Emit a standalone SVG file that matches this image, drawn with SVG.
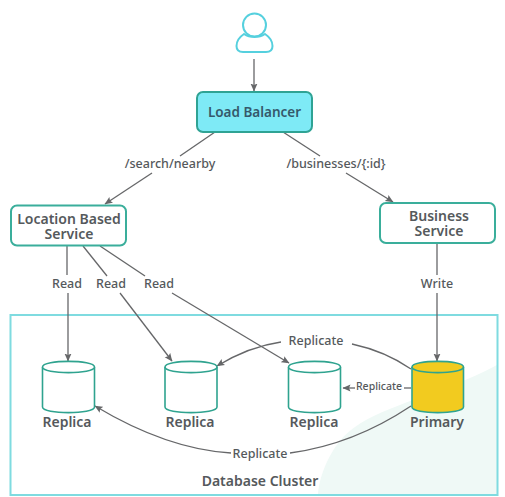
<svg xmlns="http://www.w3.org/2000/svg" width="505" height="497" viewBox="0 0 505 497">
<style>
text{font-family:"Noto Sans","Open Sans",sans-serif;fill:#55595c;text-anchor:middle}
.l{font-size:12.500px;font-weight:500}
.n{font-size:14px;font-weight:600}
.box{fill:#fff;stroke:#3aae9b;stroke-width:2}
.c{fill:none;stroke:#666769;stroke-width:1.300}
.a{marker-end:url(#ah)}
.cyl{fill:#fff;stroke:#2fa38f;stroke-width:1.600}
</style>
<defs>
<marker id="ah" markerUnits="userSpaceOnUse" markerWidth="9" markerHeight="8" refX="7.500" refY="3.500" orient="auto"><path d="M0 0L8 3.500L0 7L1.500 3.500Z" fill="#666769"/></marker>
<g id="cy"><path class="cyl" d="M0 6C0 -1.500 52 -1.500 52 6V46C52 53.500 0 53.500 0 46Z"/><path class="cyl" d="M0 6C0 13.500 52 13.500 52 6" fill="none"/></g>
</defs>
<rect width="505" height="497" fill="#fff"/>
<path d="M318 494C320 470 335 440 355 427C385 405 440 395 497 365V494Z" fill="#eff9f6"/>
<g id="cluster">
<rect x="10.500" y="315" width="487" height="180" fill="none" stroke="#7fdbe0" stroke-width="2"/>
<text class="n" x="260" y="486">Database Cluster</text>
</g>
<g id="connectors">
<path class="c a" d="M254 59V91"/>
<path class="c" d="M215 132L180 156"/>
<path class="c a" d="M152 173L105 204"/>
<path class="c" d="M283 132L320 156"/>
<path class="c a" d="M346 173L393 202"/>
<path class="c" d="M67 246V275"/>
<path class="c a" d="M68 293V361"/>
<path class="c" d="M83 246L107 276"/>
<path class="c a" d="M120 293L172 361"/>
<path class="c" d="M100 246L145 276"/>
<path class="c a" d="M172 293L289 363"/>
<path class="c" d="M437 244V275"/>
<path class="c a" d="M437 293V361"/>
<path class="c" d="M411 369C395 358 375 349 352 344"/>
<path class="c a" d="M281 342C260 345 240 352 217 366"/>
<path class="c" d="M404 388H411"/>
<path class="c a" d="M355 388H343"/>
<path class="c" d="M411 406C375 430 335 447 290 453"/>
<path class="c a" d="M231 453C180 450 135 430 95 406"/>
</g>
<g id="labels">
<text class="l" x="170" y="168">/search/nearby</text>
<text class="l" x="336" y="168">/businesses/{:id}</text>
<text class="l" x="67" y="288">Read</text>
<text class="l" x="111" y="288">Read</text>
<text class="l" x="159" y="288">Read</text>
<text class="l" x="437" y="288">Write</text>
<text class="l" x="316" y="345">Replicate</text>
<text class="l" style="font-size:10.500px" x="379" y="390">Replicate</text>
<text class="l" x="260" y="458">Replicate</text>
</g>
<g id="user" fill="#fff" stroke="#55d0de" stroke-width="2">
<circle cx="254.500" cy="25" r="11.500"/>
<path d="M244 34C238 38 236.500 42 236.500 46C236.500 50 239 52 243 52H266C270 52 272.500 50 272.500 46C272.500 42 271 38 265 34C259 38 250 38 244 34Z"/>
</g>
<g id="load-balancer">
<rect x="197" y="92" width="115" height="40" rx="6" fill="#7eeaf6" stroke="#2fa394" stroke-width="2"/>
<text class="n" x="254.500" y="117" style="fill:#35596b;font-size:13.500px">Load Balancer</text>
</g>
<g id="location-service">
<rect class="box" x="11" y="205.500" width="115" height="40" rx="6"/>
<text class="n"><tspan x="69" y="224">Location Based</tspan><tspan x="69" y="239">Service</tspan></text>
</g>
<g id="business-service">
<rect class="box" x="380" y="203" width="115" height="40" rx="6"/>
<text class="n"><tspan x="439" y="221">Business</tspan><tspan x="439" y="236">Service</tspan></text>
</g>
<g id="replica-1"><use href="#cy" x="42.500" y="361"/><text class="n" x="67" y="427">Replica</text></g>
<g id="replica-2"><use href="#cy" x="165" y="361"/><text class="n" x="190" y="427">Replica</text></g>
<g id="replica-3"><use href="#cy" x="288.500" y="361"/><text class="n" x="314" y="427">Replica</text></g>
<g id="primary">
<path d="M412 367C412 359.500 463.500 359.500 463.500 367V407C463.500 414.500 412 414.500 412 407Z" fill="#f2cb1f" stroke="#2fa38f" stroke-width="1.600"/>
<path d="M412 367C412 374.500 463.500 374.500 463.500 367" fill="none" stroke="#2fa38f" stroke-width="1.600"/>
<text class="n" x="437" y="427">Primary</text>
</g>
</svg>
